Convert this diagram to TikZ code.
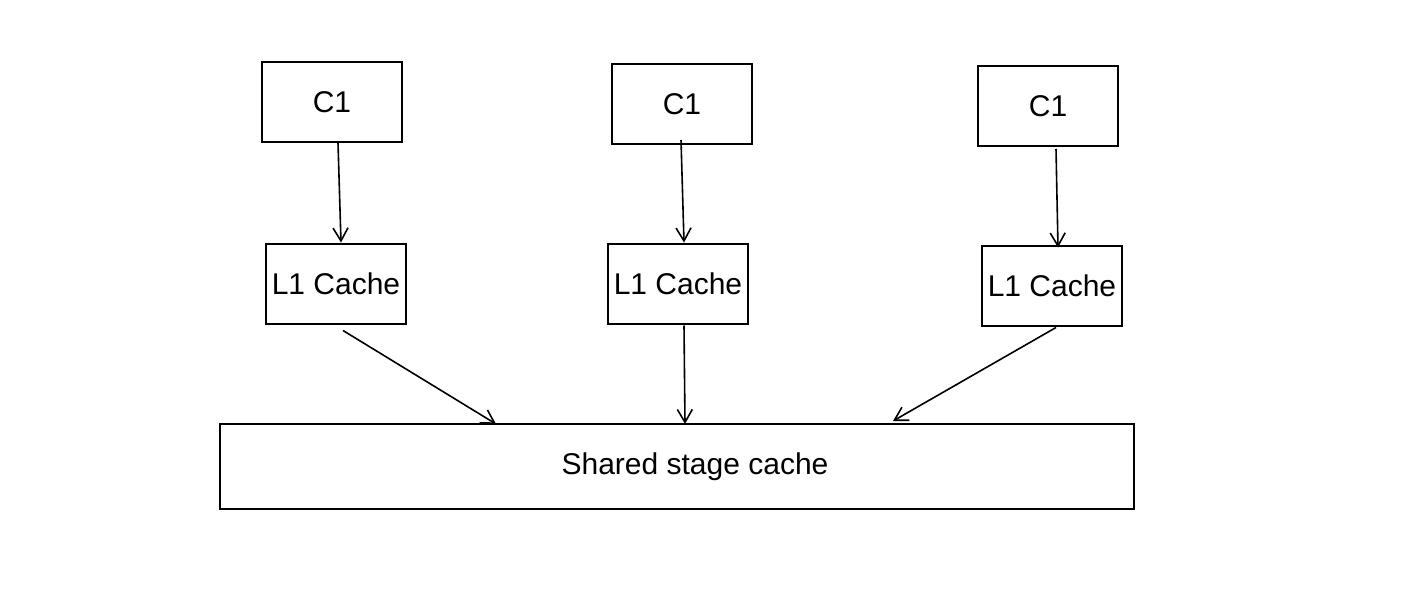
\documentclass[tikz,border=0pt]{standalone}
\usepackage{fontspec}
\setmainfont{Liberation Sans}
\usetikzlibrary{arrows.meta}
\begin{document}
\begin{tikzpicture}[x=1pt,y=-1pt,
 box/.style={draw,line width=2pt,minimum width=140pt,minimum height=80pt,inner sep=0pt,font=\fontsize{30}{34}\selectfont},
 conn/.style={line width=1.6pt,-{Straight Barb[length=13pt,width=15pt,line width=1.6pt]}}]
\useasboundingbox (0,0) rectangle (1404,604);
\fill[white] (0,0) rectangle (1404,604);
\node[box] (c1) at (332,102) {C1};
\node[box] (c2) at (682,104) {C1};
\node[box] (c3) at (1048,106) {C1};
\node[box] (l1) at (336,283.5) {\raisebox{-2pt}{L1 Cache}};
\node[box] (l2) at (678,283.5) {\raisebox{-2pt}{L1 Cache}};
\node[box] (l3) at (1052,285.5) {\raisebox{-2pt}{L1 Cache}};
\node[box, minimum width=914pt, minimum height=85pt] (s) at (677,466.5) {\hspace*{36pt}Shared stage cache};
\draw[conn] ([xshift=6pt]c1.south) -- ([xshift=5pt]l1.north);
\draw[conn] ([xshift=-1pt,yshift=5pt]c2.south) -- ([xshift=6pt]l2.north);
\draw[conn] ([xshift=8pt,yshift=-2pt]c3.south) -- ([xshift=6pt,yshift=-3pt]l3.north);
\draw[conn] ([xshift=7pt,yshift=-6pt]l1.south) -- ([xshift=-181pt,yshift=-1pt]s.north);
\draw[conn] ([xshift=6pt,yshift=-1pt]l2.south) -- ([xshift=8pt,yshift=-1pt]s.north);
\draw[conn] ([xshift=4pt,yshift=-1pt]l3.south) -- ([xshift=216pt,yshift=2pt]s.north);
\end{tikzpicture}
\end{document}
